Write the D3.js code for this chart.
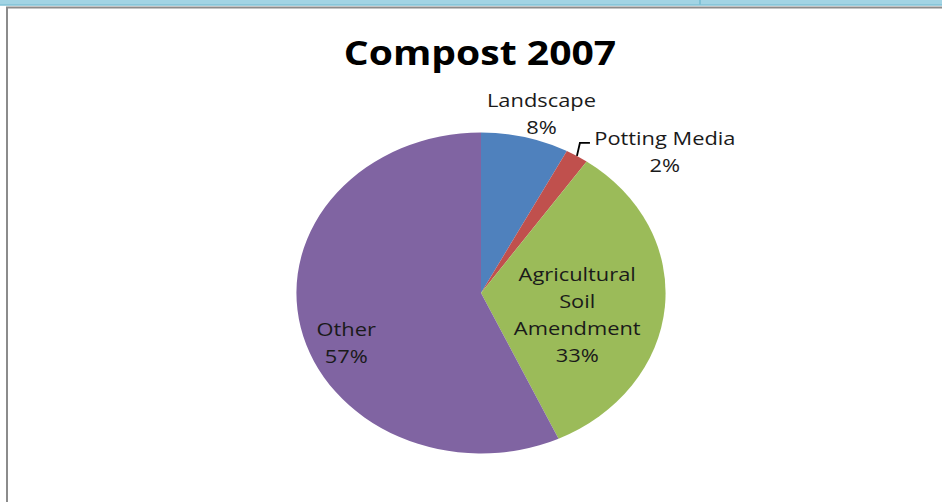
<!DOCTYPE html>
<html>
<head>
<meta charset="utf-8">
<script src="https://cdn.jsdelivr.net/npm/d3@7"></script>
<style>
  body { margin: 0; background: #ffffff; }
  svg { display: block; }
  text { font-family: "Open Sans", "DejaVu Sans", sans-serif; fill: #1a1a1a; }
</style>
</head>
<body>
<svg id="canvas"></svg>
<script>
let title = "Compost 2007";
let categories = ["Landscape", "Potting Media", "Agricultural Soil Amendment", "Other"];
let values = [7.7, 2.0, 33.4, 56.9];
let labelLines = [["Landscape"], ["Potting Media"], ["Agricultural", "Soil", "Amendment"], ["Other"]];
let colors = ["#4f81bd", "#c0504d", "#9bbb59", "#8064a2"];

let width = 942;
let height = 502;
let cx = 481;
let cy = 293;
let radius = 160.5;
let stretch = 1.15;
let lineGap = 27;

// label placement: radius from centre, nudge x, nudge y (unstretched units)
let labelPlace = [
    [186, 8, 1],
    [196, 58, 26],
    [85, -1, 14],
    [120, 0, 24]
];

let canvas = d3.select("#canvas");
canvas.attr("width", width);
canvas.attr("height", height);

let drawFrame = () => {
    canvas.append("rect")
          .attr("x", 0).attr("y", 0)
          .attr("width", width).attr("height", 5)
          .attr("fill", "#a2d4e4");
    canvas.append("line")
          .attr("x1", 0).attr("x2", width)
          .attr("y1", 5).attr("y2", 5)
          .attr("stroke", "#80c2d6").attr("stroke-width", 1.5);
    canvas.append("line")
          .attr("x1", 700).attr("x2", 700)
          .attr("y1", 0).attr("y2", 5)
          .attr("stroke", "#80c2d6").attr("stroke-width", 2);
    canvas.append("line")
          .attr("x1", 6).attr("x2", width)
          .attr("y1", 7.5).attr("y2", 7.5)
          .attr("stroke", "#8c8c8c").attr("stroke-width", 2);
    canvas.append("line")
          .attr("x1", 7).attr("x2", 7)
          .attr("y1", 7).attr("y2", height)
          .attr("stroke", "#8c8c8c").attr("stroke-width", 2);
}

let drawTitle = () => {
    canvas.append("g")
          .attr("transform", "translate(" + 480 + ",0) scale(" + stretch + ",1)")
          .append("text")
          .attr("x", 0)
          .attr("y", 65)
          .attr("text-anchor", "middle")
          .attr("font-size", 34)
          .attr("font-weight", 700)
          .style("fill", "#000")
          .text(title);
}

let drawPie = () => {
    let pie = d3.pie().sort(null).value(d => d);
    let arcs = pie(values);
    let arc = d3.arc().innerRadius(0).outerRadius(radius);

    let g = canvas.append("g")
                  .attr("transform", "translate(" + cx + "," + cy + ") scale(" + stretch + ",1)");

    g.selectAll("path")
     .data(arcs)
     .enter()
     .append("path")
     .attr("d", arc)
     .attr("fill", (d, i) => colors[i]);

    // leader line for the small slice: up, then across to the label
    let small = arcs[1];
    let mid = (small.startAngle + small.endAngle) / 2;
    let p0 = [Math.sin(mid) * radius, -Math.cos(mid) * radius];
    let p1 = [p0[0] + 2.6, p0[1] - 13];
    let p2 = [p1[0] + 8.7, p1[1]];
    g.append("path")
     .attr("d", d3.line()([p0, p1, p2]))
     .attr("fill", "none")
     .attr("stroke", "#000")
     .attr("stroke-width", 1.6);

    let labels = g.selectAll(".label")
                  .data(arcs)
                  .enter()
                  .append("text")
                  .attr("class", "label")
                  .attr("font-size", 19)
                  .attr("text-anchor", "middle")
                  .attr("transform", (d, i) => {
                      let lp = labelPlace[i];
                      let la = d3.arc().innerRadius(lp[0]).outerRadius(lp[0]);
                      let c = la.centroid(d);
                      let n = labelLines[i].length + 1;
                      let y = c[1] + lp[2] - (n - 1) * lineGap / 2 + 7;
                      return "translate(" + (c[0] + lp[1]) + "," + y + ")";
                  });

    labels.each(function (d, i) {
        let lines = labelLines[i].concat([Math.round(values[i]) + "%"]);
        d3.select(this).selectAll("tspan")
          .data(lines)
          .enter()
          .append("tspan")
          .attr("x", 0)
          .attr("dy", (t, j) => j === 0 ? 0 : lineGap)
          .text(t => t);
    });
}

drawFrame();
drawTitle();
drawPie();
</script>
</body>
</html>
